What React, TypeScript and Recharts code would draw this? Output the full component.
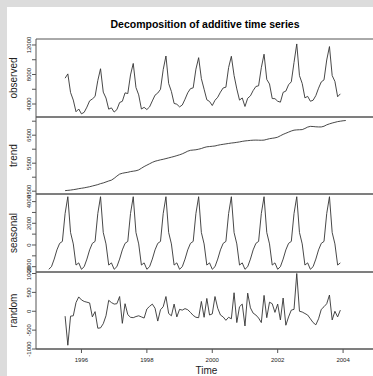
import { LineChart, Line, XAxis, YAxis, ReferenceLine } from 'recharts';

// monthly series, observed / trend / random start Jul 1995, seasonal starts Jan 1995
const START_YEAR = 1995;

const observed = [
  7500, 8080, 5560, 4535, 2950, 3320,
  2665, 2880, 3580, 4430, 4685, 5030, 7185, 8780, 5615, 4810, 3305, 3475,
  2910, 3240, 4200, 4370, 5510, 5415, 7940, 9495, 6240, 5240, 3320, 3550,
  3250, 3610, 4420, 5200, 5485, 5990, 8660, 10505, 6780, 5695, 4080, 3970,
  3610, 3865, 4650, 5520, 6080, 6190, 8720, 10280, 7435, 6000, 4575, 4345,
  3795, 4505, 4920, 5610, 6175, 6280, 8945, 10470, 7870, 6045, 4530, 4820,
  3665, 4785, 5105, 5822, 6375, 6472, 8920, 10750, 7330, 6715, 4740, 4725,
  4380, 4250, 5580, 5750, 6610, 7010, 9630, 12140, 7845, 6780, 4830, 5040,
  4375, 4510, 5140, 6145, 6995, 7270, 9970, 11785, 7855, 7060, 4985, 5380,
];

const trend = [
  4520, 4530, 4540, 4555, 4570, 4590,
  4605, 4620, 4640, 4660, 4685, 4710, 4735, 4770, 4795, 4830, 4865, 4895,
  4960, 5040, 5110, 5140, 5160, 5175, 5200, 5215, 5230, 5260, 5320, 5380,
  5430, 5480, 5530, 5570, 5595, 5620, 5640, 5665, 5690, 5715, 5740, 5770,
  5800, 5835, 5880, 5930, 5960, 5970, 5980, 6000, 6025, 6060, 6085, 6095,
  6105, 6115, 6140, 6160, 6175, 6190, 6205, 6220, 6230, 6245, 6260, 6280,
  6295, 6305, 6315, 6322, 6325, 6322, 6320, 6325, 6350, 6375, 6390, 6405,
  6430, 6480, 6530, 6570, 6610, 6650, 6680, 6690, 6695, 6700, 6740, 6790,
  6815, 6810, 6800, 6795, 6795, 6820, 6870, 6905, 6935, 6960, 6985, 7000,
  7015, 7025,
];

const seasonal = [
  -2240, -2000, -1300, -450, 150, 330, 2900, 4450, 1150, 100, -1850, -1650,
  -2240, -2000, -1300, -450, 150, 330, 2900, 4450, 1150, 100, -1850, -1650,
  -2240, -2000, -1300, -450, 150, 330, 2900, 4450, 1150, 100, -1850, -1650,
  -2240, -2000, -1300, -450, 150, 330, 2900, 4450, 1150, 100, -1850, -1650,
  -2240, -2000, -1300, -450, 150, 330, 2900, 4450, 1150, 100, -1850, -1650,
  -2240, -2000, -1300, -450, 150, 330, 2900, 4450, 1150, 100, -1850, -1650,
  -2240, -2000, -1300, -450, 150, 330, 2900, 4450, 1150, 100, -1850, -1650,
  -2240, -2000, -1300, -450, 150, 330, 2900, 4450, 1150, 100, -1850, -1650,
  -2240, -2000, -1300, -450, 150, 330, 2900, 4450, 1150, 100, -1850, -1650,
];

const random = [
  -130, -900, -130, -120, 230, 380,
  300, 260, 240, 220, -150, -10, -450, -440, -330, -120, 290, 230,
  190, 200, 390, -320, 200, -90, -160, -170, -140, -120, -150, -180,
  60, 130, 190, 80, -260, 40, 120, 390, -60, -120, 190, -150,
  50, 30, 70, 40, -30, -110, -160, -170, 260, -160, 340, -100,
  -70, 390, 80, -100, -150, -240, -160, -200, 490, -300, 120, 190,
  -390, 480, 90, -50, -100, -180, -300, 420, -170, 240, 200, -30,
  190, -230, 350, -370, -150, 30, 50, 1000, 0, -20, -60, -100,
  -200, -300, -360, -200, 50, 120, 200, 430, -230, 0, -150, 30,
];

const xTicks = [1996, 1998, 2000, 2002, 2004];
const observedTicks = [4000, 6000, 8000, 10000, 12000];
const observedLabels = [4000, 8000, 12000];
const trendTicks = [4500, 5000, 5500, 6000, 6500, 7000];
const trendLabels = [4500, 5500, 6500];
const seasonalTicks = [-2000, -1000, 0, 1000, 2000, 3000, 4000];
const seasonalLabels = [-2000, 0, 2000, 4000];
const randomTicks = [-1000, -500, 0, 500, 1000];
const randomLabels = [-1000, -500, 0, 500, 1000];

const toTime = (offset: number, i: number) => START_YEAR + (offset + i) / 12;
const observedRows = observed.map((v, i) => ({ t: toTime(6, i), value: v }));
const trendRows = trend.map((v, i) => ({ t: toTime(6, i), value: v }));
const seasonalRows = seasonal.map((v, i) => ({ t: toTime(0, i), value: v }));
const randomRows = random.map((v, i) => ({ t: toTime(6, i), value: v }));

const FONT = '"Liberation Sans", Arial, Helvetica, sans-serif';
const INK = '#222';
const BOX = '#555';
const PAD = 10;
const CHART_W = 382;
const X_DOMAIN: [number, number] = [1994.61, 2005.19];

function yTick(labeled: number[]) {
  return (props: any) => {
    const { y, payload } = props;
    if (!labeled.includes(payload.value)) return <g />;
    return (
      <text x={31} y={y} transform={`rotate(-90 31 ${y})`} textAnchor="middle"
        fontSize={6} fontFamily={FONT} fill={INK}>
        {payload.value}
      </text>
    );
  };
}

type PanelProps = {
  rows: { t: number; value: number }[];
  domain: [number, number];
  ticks: number[];
  labeled: number[];
  top: number;
  plotH: number;
  showX?: boolean;
};

function Panel({ rows, domain, ticks, labeled, top, plotH, showX }: PanelProps) {
  const xh = showX ? 20 : 0;
  return (
    <div style={{ position: 'absolute', left: 0, top: top - PAD }}>
      <LineChart width={CHART_W} height={plotH + PAD * 2 + xh} data={rows}
        margin={{ top: PAD, right: 0, bottom: PAD, left: 0 }}>
        <XAxis type="number" dataKey="t" domain={X_DOMAIN} allowDataOverflow ticks={xTicks}
          interval={0} hide={!showX} height={20} axisLine={{ stroke: BOX }} tickLine={{ stroke: BOX }}
          tickSize={4} tickMargin={5} tick={{ fontSize: 6, fill: INK, fontFamily: FONT }} />
        <YAxis type="number" domain={domain} allowDataOverflow ticks={ticks} interval={0} width={36}
          axisLine={{ stroke: BOX }} tickLine={{ stroke: BOX }} tickSize={4} tick={yTick(labeled)} />
        <ReferenceLine y={domain[1]} stroke={BOX} />
        <ReferenceLine y={domain[0]} stroke={BOX} />
        <Line type="linear" dataKey="value" stroke="#333" strokeWidth={0.9} dot={false}
          isAnimationActive={false} />
      </LineChart>
    </div>
  );
}

export default function App() {
  return (
    <div style={{ position: 'absolute', left: 0, top: 0, width: 373, height: 376, overflow: 'hidden', background: '#dcdcdc' }}>
      <style>{`.recharts-surface{overflow:visible}`}</style>
      <div style={{ position: 'absolute', left: 7, top: 7, right: 0, bottom: 0, background: '#fff' }} />
      <Panel rows={observedRows} domain={[2240, 12810]} ticks={observedTicks} labeled={observedLabels} top={39} plotH={78} />
      <Panel rows={trendRows} domain={[4400, 7150]} ticks={trendTicks} labeled={trendLabels} top={117} plotH={77} />
      <Panel rows={seasonalRows} domain={[-2490, 4700]} ticks={seasonalTicks} labeled={seasonalLabels} top={194} plotH={78} />
      <Panel rows={randomRows} domain={[-1000, 1040]} ticks={randomTicks} labeled={randomLabels} top={272} plotH={77} showX />
      <svg width={373} height={376} style={{ position: 'absolute', left: 0, top: 0, pointerEvents: 'none' }}>
        <text x={205} y={28} textAnchor="middle" fontSize={10.5} fontWeight="bold" fontFamily={FONT} fill="#000">
          Decomposition of additive time series
        </text>
        <text x={17} y={78} transform="rotate(-90 17 78)" textAnchor="middle" fontSize={10} fontFamily={FONT} fill={INK}>observed</text>
        <text x={17} y={155.5} transform="rotate(-90 17 155.5)" textAnchor="middle" fontSize={10} fontFamily={FONT} fill={INK}>trend</text>
        <text x={17} y={233} transform="rotate(-90 17 233)" textAnchor="middle" fontSize={10} fontFamily={FONT} fill={INK}>seasonal</text>
        <text x={17} y={310.5} transform="rotate(-90 17 310.5)" textAnchor="middle" fontSize={10} fontFamily={FONT} fill={INK}>random</text>
        <text x={206.5} y={373.5} textAnchor="middle" fontSize={10} fontFamily={FONT} fill={INK}>Time</text>
      </svg>
    </div>
  );
}
